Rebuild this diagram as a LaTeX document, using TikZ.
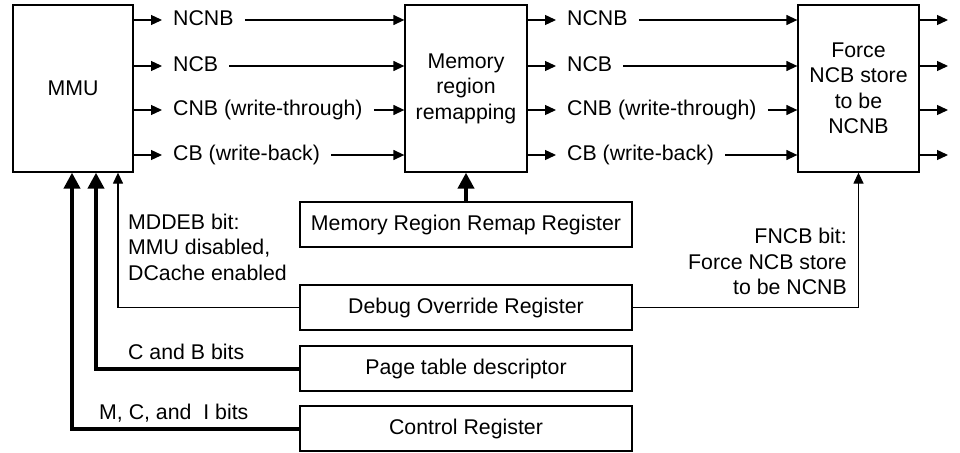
\documentclass[tikz,border=0pt]{standalone}
\usepackage{fontspec}
\setmainfont{Liberation Sans}
\usetikzlibrary{arrows.meta,calc}
\tikzset{
  kutu/.style={draw,line width=1.3pt,inner sep=0pt,align=center,font=\fontsize{21.3}{25.5}\selectfont},
  sinyal/.style={anchor=west,inner xsep=11pt,inner ysep=0pt,text height=15pt,text depth=4pt,font=\fontsize{21.3}{25.5}\selectfont},
  notYazi/.style={inner sep=0pt,font=\fontsize{21.3}{25.5}\selectfont},
  inceOk/.style={line width=1.3pt,-{Triangle[length=11pt,width=10pt]}},
  kalinOk/.style={line width=4pt,-{Triangle[length=16pt,width=16pt]}}
}

\begin{document}
\begin{tikzpicture}[x=1pt,y=-1pt]
\useasboundingbox (0,0) rectangle (960,452);
% ana bloklar
\node[kutu,minimum width=120pt,minimum height=167pt] (mmu) at (73,88.5) {MMU};
\node[kutu,minimum width=122pt,minimum height=167pt] (remap) at (466,88.5) {Memory\\region\\remapping};
\node[kutu,minimum width=121pt,minimum height=167pt] (force) at (858.5,88.5) {Force\\NCB store\\to be\\NCNB};
% registerlar
\node[kutu,minimum width=332pt,minimum height=45pt] (mrr) at (466,224.5) {Memory Region Remap Register};
\node[kutu,minimum width=332pt,minimum height=45pt] (dor) at (466,307.5) {Debug Override Register};
\node[kutu,minimum width=332pt,minimum height=45pt] (ptd) at (466,368.5) {Page table descriptor};
\node[kutu,minimum width=332pt,minimum height=45pt] (ctl) at (466,428.5) {Control Register};
% sinyal satirlari
\foreach \i/\y/\t in {1/20/NCNB,2/66/NCB,3/110/CNB (write-through),4/155/CB (write-back)} {
  \node[sinyal] (a\i) at (162,\y) {\t};
  \node[sinyal] (b\i) at (556,\y) {\t};
  \coordinate (c\i) at (948,\y);
  \draw[inceOk] (mmu.east |- a\i.west) -- (a\i.west);
  \draw[inceOk] (a\i.east) -- (remap.west |- a\i.east);
  \draw[inceOk] (remap.east |- b\i.west) -- (b\i.west);
  \draw[inceOk] (b\i.east) -- (force.west |- b\i.east);
  \draw[inceOk] (force.east |- c\i) -- (c\i);
}
% alttan gelen baglantilar
\draw[kalinOk] (mrr.north) -- (mrr.north |- remap.south);
\draw[inceOk] (dor.east) -| (force.south);
\draw[inceOk] (dor.west) -| ([xshift=45pt]mmu.south);
\draw[kalinOk] (ptd.west) -| ([xshift=23pt]mmu.south);
\draw[kalinOk] (ctl.west) -| ([xshift=-1pt]mmu.south);
% aciklamalar
\node[notYazi,anchor=west,align=left] (mddeb) at (128,247) {MDDEB bit:\\MMU disabled,\\DCache enabled};
\node[notYazi,anchor=east,align=right] (fncb) at (847,261.5) {FNCB bit:\\Force NCB store\\to be NCNB};
\node[notYazi,anchor=west] (cbBit) at (128,352) {C and B bits};
\node[notYazi,anchor=west] (mciBit) at (99,413) {M, C, and\ \ I bits};
\end{tikzpicture}
\end{document}
